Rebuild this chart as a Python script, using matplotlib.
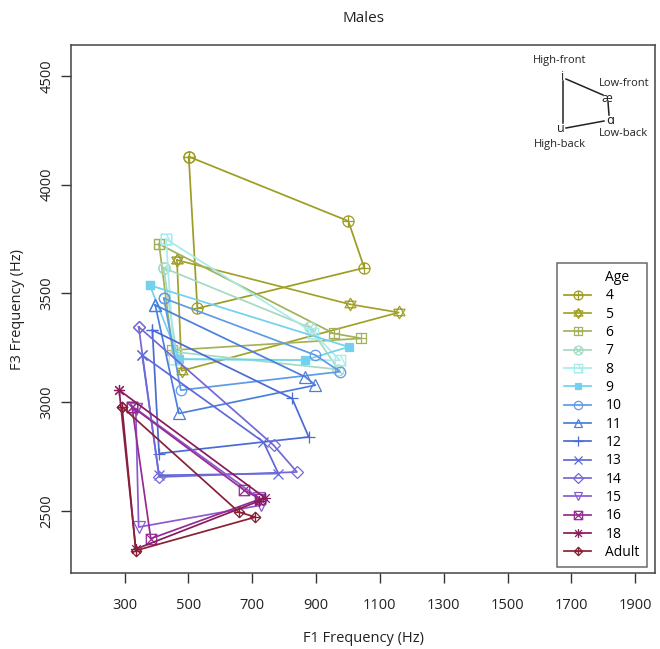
import numpy as np
import matplotlib
matplotlib.use('Agg')
import matplotlib.pyplot as plt
from matplotlib.path import Path
from matplotlib.lines import Line2D

plt.rcParams['font.family'] = ['Open Sans', 'DejaVu Sans']

# Ages (series) and formant values (Hz) per vowel: i, ae, a, u
ages = ['4', '5', '6', '7', '8', '9', '10', '11', '12', '13', '14', '15', '16', '18', 'Adult']

f1_i = [501, 464, 408, 422, 430, 379, 423, 396, 387, 355, 344, 335, 323, 283, 292]
f3_i = [4128, 3653, 3726, 3617, 3749, 3537, 3477, 3446, 3331, 3216, 3346, 2970, 2980, 3055, 2978]
f1_ae = [1001, 1005, 955, 880, 890, 1002, 898, 866, 825, 735, 767, 720, 675, 740, 658]
f3_ae = [3832, 3450, 3316, 3343, 3320, 3254, 3216, 3116, 3017, 2817, 2802, 2560, 2595, 2560, 2495]
f1_a = [1051, 1159, 1042, 970, 975, 865, 975, 898, 877, 782, 840, 726, 725, 720, 710]
f3_a = [3617, 3412, 3293, 3150, 3192, 3193, 3140, 3078, 2840, 2672, 2679, 2526, 2555, 2545, 2472]
f1_u = [528, 479, 450, 462, 455, 471, 476, 470, 408, 408, 408, 344, 382, 335, 335]
f3_u = [3431, 3144, 3239, 3230, 3200, 3197, 3055, 2948, 2764, 2664, 2656, 2426, 2373, 2325, 2318]

colors = ['#9e9c22', '#a3a12a', '#a2b25a', '#a6d9c2', '#a6ecee', '#72d2ee', '#5e9ae6',
          '#4a7fdc', '#4a6ad6', '#5c6ad8', '#7468d8', '#8a5ad0', '#962a92', '#8a1a5a', '#8a2035']


def compound(*paths):
    return Path.make_compound_path(*paths)


def seg(p0, p1):
    return Path([p0, p1], [Path.MOVETO, Path.LINETO])


circle = Path.unit_circle()
square = Path([(-1, -1), (1, -1), (1, 1), (-1, 1), (-1, -1)],
              [Path.MOVETO, Path.LINETO, Path.LINETO, Path.LINETO, Path.CLOSEPOLY])
diamond = Path([(0, -1.3), (1.3, 0), (0, 1.3), (-1.3, 0), (0, -1.3)],
               [Path.MOVETO, Path.LINETO, Path.LINETO, Path.LINETO, Path.CLOSEPOLY])
tri_up = Path([(-1.1, -0.65), (1.1, -0.65), (0, 1.25), (-1.1, -0.65)],
              [Path.MOVETO, Path.LINETO, Path.LINETO, Path.CLOSEPOLY])
tri_dn = Path([(-1.1, 0.65), (1.1, 0.65), (0, -1.25), (-1.1, 0.65)],
              [Path.MOVETO, Path.LINETO, Path.LINETO, Path.CLOSEPOLY])
plus = compound(seg((-1, 0), (1, 0)), seg((0, -1), (0, 1)))
cross = compound(seg((-1, -1), (1, 1)), seg((-1, 1), (1, -1)))
cross_c = compound(seg((-0.71, -0.71), (0.71, 0.71)), seg((-0.71, 0.71), (0.71, -0.71)))
plus_d = compound(seg((-1.3, 0), (1.3, 0)), seg((0, -1.3), (0, 1.3)))
sq_tri = Path([(-1, -1), (1, -1), (0, 1)], [Path.MOVETO, Path.LINETO, Path.LINETO])

markers = [
    compound(circle, plus),            # 4
    compound(tri_up, tri_dn),          # 5
    compound(square, plus),            # 6
    compound(circle, cross_c),         # 7
    compound(square, sq_tri),          # 8
    's',                               # 9
    'o',                               # 10
    '^',                               # 11
    '+',                               # 12
    'x',                               # 13
    'D',                               # 14
    'v',                               # 15
    compound(square, cross),           # 16
    compound(plus_d, cross),           # 18
    compound(diamond, plus_d),         # Adult
]
sizes = [8, 9, 7.5, 8, 7.5, 6, 7.5, 8, 9, 7, 6.5, 8, 7.5, 8, 7.5]

fig = plt.figure(figsize=(6.6, 6.49), dpi=100)
ax = fig.add_axes([71 / 660, 76 / 649, 584 / 660, 528 / 649])

handles = [Line2D([], [], color='none', label='Age')]
for k, age in enumerate(ages):
    xs = [f1_i[k], f1_ae[k], f1_a[k], f1_u[k], f1_i[k]]
    ys = [f3_i[k], f3_ae[k], f3_a[k], f3_u[k], f3_i[k]]
    filled = markers[k] == 's'
    ln, = ax.plot(xs, ys, color=colors[k], lw=1.25, marker=markers[k], ms=sizes[k],
                  mfc=colors[k] if filled else 'none', mec=colors[k], mew=0.9,
                  label=age)
    handles.append(ln)

ax.set_xlim(132, 1962)
ax.set_ylim(2215, 4641)
ax.set_xticks(np.arange(300, 2000, 200))
ax.set_yticks(np.arange(2500, 5000, 500))
ax.tick_params(direction='out', length=7, width=1, colors='#333333', labelsize=10.5,
               labelcolor='#222222')
ax.tick_params(axis='x', pad=11)
ax.tick_params(axis='y', pad=5)
plt.setp(ax.get_yticklabels(), rotation=90, va='center')
for s in ax.spines.values():
    s.set_color('#444444')
    s.set_linewidth(1.1)

fig.text(0.55, 1 - 18 / 649, 'Males', ha='center', va='center', fontsize=11, color='#222222')
fig.text(0.55, 1 - 639 / 649, 'F1 Frequency (Hz)', ha='center', va='center',
         fontsize=10.5, color='#222222')
fig.text(18 / 660, 1 - 310 / 649, 'F3 Frequency (Hz)', ha='center', va='center',
         rotation=90, fontsize=10.5, color='#222222')

leg = ax.legend(handles=handles, loc='lower right',
                bbox_to_anchor=((646.7 - 71) / 584, (572 - 566) / 528),
                fontsize=10, frameon=True, fancybox=False, edgecolor='#444444',
                handlelength=2.0, handletextpad=1.0, labelspacing=0.24,
                borderpad=0.5, borderaxespad=0, markerscale=0.8)
leg.get_frame().set_linewidth(1.1)

# vowel diagram inset (axes fraction)
def fx(px):
    return (px - 71) / 584


def fy(py):
    return (572 - py) / 528


kw = dict(transform=ax.transAxes, ha='center', va='center', color='#222222')
ax.plot([fx(563), fx(563)], [fy(80), fy(122)], transform=ax.transAxes, color='#222222', lw=1.1)
ax.plot([fx(566), fx(603)], [fy(78), fy(94)], transform=ax.transAxes, color='#222222', lw=1.1)
ax.plot([fx(608), fx(609)], [fy(101), fy(114)], transform=ax.transAxes, color='#222222', lw=1.1)
ax.plot([fx(604), fx(566)], [fy(120), fy(127)], transform=ax.transAxes, color='#222222', lw=1.1)
ax.text(fx(560), fy(60), 'High-front', fontsize=8, **kw)
ax.text(fx(563), fy(75), 'i', fontsize=9, **kw)
ax.text(fx(624), fy(82), 'Low-front', fontsize=8, **kw)
ax.text(fx(607), fy(97), 'æ', fontsize=9, **kw)
ax.text(fx(610), fy(119), 'ɑ', fontsize=9, **kw)
ax.text(fx(561), fy(128), 'u', fontsize=9, **kw)
ax.text(fx(624), fy(133), 'Low-back', fontsize=8, **kw)
ax.text(fx(560), fy(144), 'High-back', fontsize=8, **kw)

fig.savefig('out.png', dpi=100)
